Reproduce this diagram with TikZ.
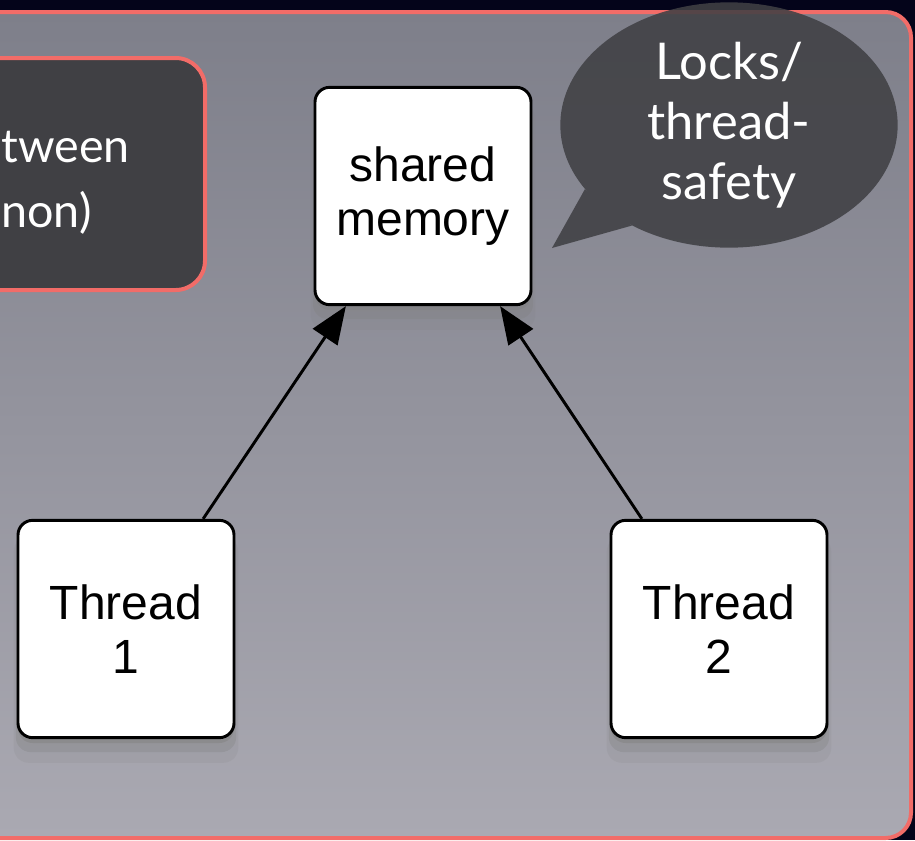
\documentclass[tikz,border=0pt]{standalone}
\usepackage{fontspec}
\setmainfont{Lato}
\newfontfamily\boxfont{Liberation Sans}
\usetikzlibrary{arrows.meta, positioning, shapes.geometric, shadows}
\definecolor{slidenavy}{RGB}{4,4,26}
\definecolor{paneltop}{RGB}{126,127,138}
\definecolor{panelbot}{RGB}{170,169,178}
\definecolor{salmon}{RGB}{242,108,104}
\definecolor{calloutgray}{RGB}{64,64,68}

\begin{document}
\begin{tikzpicture}[x=0.75pt, y=-0.75pt,
  membox/.style={draw=black, fill=white, line width=2.2pt, rounded corners=11pt,
                 minimum width=162pt, minimum height=163pt, inner sep=0pt,
                 align=center, font=\boxfont\fontsize{36}{41}\selectfont,
                 drop shadow={shadow xshift=0pt, shadow yshift=-4pt, opacity=.45},
                 drop shadow={shadow xshift=0pt, shadow yshift=-9pt, opacity=.3, shadow scale=1.02},
                 drop shadow={shadow xshift=0pt, shadow yshift=-15pt, opacity=.15, shadow scale=1.04}},
  conn/.style={line width=2.2pt, -{Triangle[length=28pt, width=22pt]}},
  bubble/.style={ellipse, fill=calloutgray, text=white, inner sep=0pt,
                 minimum width=253pt, minimum height=184pt, align=center,
                 font=\fontsize{38}{45}\selectfont},
  notetext/.style={text=white, inner sep=0pt, font=\fontsize{35}{49}\selectfont}]
  \useasboundingbox (0,0) rectangle (915,840);
  \clip (0,0) rectangle (915,840);

  % slide background and panel
  \fill[slidenavy] (0,0) rectangle (915,840);
  \shade[top color=paneltop, bottom color=panelbot, rounded corners=19pt]
    (-40,12) rectangle (911,838);
  \draw[salmon, line width=3pt, rounded corners=19pt] (-40,12) rectangle (911,838);

  % note box on the left
  \draw[fill=calloutgray, draw=salmon, line width=3pt, rounded corners=22pt]
    (-60,58) rectangle (205,290);
  \node[notetext, anchor=base west] (notetop) at (1,162) {tween};
  \node[notetext, anchor=base west] (notebot) at (1,227) {non)};

  % memory and threads
  \node[membox] (mem) at (423,196) {shared\\memory};
  \node[membox] (t1) at (126,629) {Thread\\1};
  \node[membox] (t2) at (719,629) {Thread\\2};

  \draw[conn] (t1.55) -- (mem.235);
  \draw[conn] (t2.125) -- (mem.-55);

  % speech bubble
  \begin{scope}[transparency group, opacity=.88]
    \node[bubble] (locks) at (729,125) {};
    \coordinate (tailtip) at (552,248);
    \fill[calloutgray] (locks.204) -- (tailtip) -- (locks.226) -- cycle;
  \end{scope}
  \node[bubble, fill=none] (lockstext) at (locks.center) {Locks/\\thread-\\safety};
\end{tikzpicture}
\end{document}
